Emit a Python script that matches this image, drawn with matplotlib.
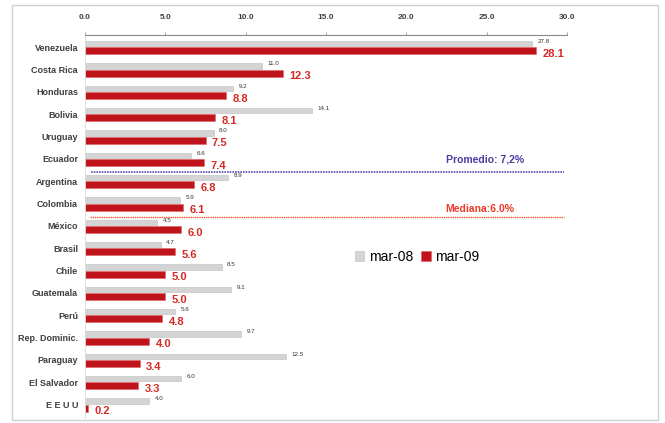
import matplotlib
matplotlib.use("Agg")
import matplotlib.pyplot as plt
from matplotlib.patches import Rectangle
import numpy as np

countries = ["Venezuela", "Costa Rica", "Honduras", "Bolivia", "Uruguay", "Ecuador",
             "Argentina", "Colombia", "México", "Brasil", "Chile", "Guatemala", "Perú",
             "Rep. Dominic.", "Paraguay", "El Salvador", "E E U U"]
mar08 = [27.8, 11.0, 9.2, 14.1, 8.0, 6.6, 8.9, 5.9, 4.5, 4.7, 8.5, 9.1, 5.6, 9.7, 12.5, 6.0, 4.0]
mar09 = [28.1, 12.3, 8.8, 8.1, 7.5, 7.4, 6.8, 6.1, 6.0, 5.6, 5.0, 5.0, 4.8, 4.0, 3.4, 3.3, 0.2]
xticks = [0, 5, 10, 15, 20, 25, 30]
promedio = 7.2
mediana = 6.0

FONT = "Liberation Sans"
gray = "#d4d4d4"
red = "#c0141c"

fig = plt.figure(figsize=(6.65, 4.23), dpi=100)
fig.patches.append(Rectangle((12/665, 3/423), 646/665, 415/423, transform=fig.transFigure,
                             fill=False, edgecolor="#d0d0d0", lw=1.0))
ax = fig.add_axes([85/665, 5/423, 482/665, 383/423])

y = np.arange(len(countries))
ax.barh(y - 0.16, mar08, height=0.24, color=gray, edgecolor="#bdbdbd", lw=0.4, label="mar-08")
ax.barh(y + 0.16, mar09, height=0.32, color=red, edgecolor="#e06060", lw=0.4, label="mar-09")

for i, (a, b) in enumerate(zip(mar08, mar09)):
    ax.text(a + 0.35, i - 0.26, f"{a:.1f}", fontsize=4.5, family=FONT, color="#333333",
            va="center", ha="left")
    ax.text(b + 0.4, i + 0.3, f"{b:.1f}", fontsize=8, family=FONT, fontweight="bold",
            color="#d42a24", va="center", ha="left")

ax.set_xlim(0, 30)
ax.set_ylim(16.6, -0.55)
ax.xaxis.tick_top()
ax.set_xticks(xticks)
ax.set_xticklabels([f"{t:.1f}" for t in xticks], fontsize=6, family=FONT,
                   fontweight="bold", color="#404040")
ax.tick_params(axis="x", length=2, pad=8, color="#999999", width=0.6)
ax.set_yticks(y)
ax.set_yticklabels(countries, fontsize=6.5, family=FONT, fontweight="bold", color="#404040")
ax.tick_params(axis="y", length=0, pad=5)
for s in ["right", "bottom"]:
    ax.spines[s].set_visible(False)
ax.spines["top"].set_color("#888888")
ax.spines["top"].set_linewidth(0.8)
ax.spines["left"].set_color("#dddddd")
ax.spines["left"].set_linewidth(0.6)

ax.plot([0.4, 29.8], [5.6, 5.6], ls=(0, (1, 0.6)), color="#5b4db0", lw=1.2)
ax.text(24.9, 5.25, f"Promedio: {promedio:.1f}%".replace(".", ","), fontsize=7.5, family=FONT,
        fontweight="bold", color="#4a3fa0", ha="center", va="bottom")
ax.plot([0.3, 29.8], [7.6, 7.6], ls=(0, (1, 0.6)), color="#ee5533", lw=1.0)
ax.text(24.6, 7.45, f"Mediana:{mediana:.1f}%", fontsize=7.5, family=FONT,
        fontweight="bold", color="#ee3a2a", ha="center", va="bottom")

leg = ax.legend(loc="center", bbox_to_anchor=(417/665, 1 - 257/423), bbox_transform=fig.transFigure,
                ncol=2, frameon=False, handlelength=0.7, handleheight=0.7,
                handletextpad=0.3, columnspacing=0.6, prop={"family": FONT, "size": 10})

fig.savefig("out.png", dpi=100)
